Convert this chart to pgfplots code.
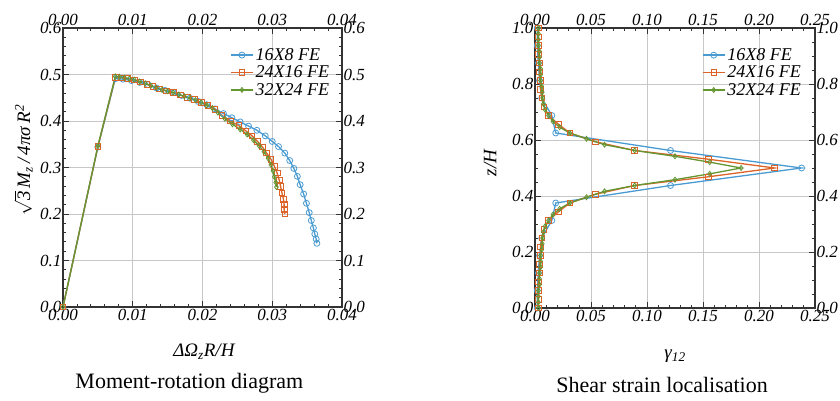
\documentclass[border=0pt]{standalone}
\usepackage{fontspec}
\setmainfont{Liberation Serif}
\usepackage{pgfplots}
\pgfplotsset{compat=1.18}
\definecolor{cA}{RGB}{74,155,210}
\definecolor{cB}{RGB}{220,100,40}
\definecolor{cC}{RGB}{100,150,50}

\pgfplotsset{
  common/.style={
    scale only axis,
    anchor=south west,
    tick align=inside,
    tick pos=both,
    scaled ticks=false,
    major tick length=6pt,
    minor tick length=3pt,
    axis line style={line width=1.3pt, black!80},
    tick style={black!80, line width=0.9pt},
    /pgf/number format/assume math mode=true,
    /pgf/number format/fixed,
    /pgf/number format/fixed zerofill,
    ticklabel style={font=\fontsize{17}{17}\selectfont\itshape},
    x tick label style={inner sep=2pt},
    y tick label style={inner sep=1.5pt},
    label style={font=\fontsize{19}{19}\selectfont\itshape},
    title style={font=\fontsize{22}{22}\selectfont},
  },
  dataax/.style={
    common,
    grid=major,
    major grid style={black!22, line width=0.7pt},
    legend cell align=left,
    legend style={draw=none, fill=none, font=\fontsize{18}{20}\selectfont\itshape, anchor=north west, inner sep=0pt, row sep=0pt},
    legend image code/.code={\draw[mark repeat=2,mark phase=2] plot coordinates {(0pt,0pt) (11pt,0pt) (22pt,0pt)};},
  },
  overlay/.style={
    common,
    xticklabel pos=upper,
    yticklabel pos=right,
    axis line style={draw=none},
    tick style={draw=none},
  },
  sA/.style={cA, line width=1.3pt, mark=o, mark size=3pt, mark options={line width=0.8pt, solid, fill=white}},
  sB/.style={cB, line width=1.3pt, mark=square, mark size=2.8pt, mark options={line width=0.8pt, solid, fill=white}},
  sC/.style={cC, line width=1.3pt, mark=diamond, mark size=2.5pt, mark options={line width=0.8pt, solid}},
}

\begin{document}
\begin{tikzpicture}[x=1pt,y=1pt]
\path[use as bounding box] (0,0) rectangle (840,401);

% ---------------- Left panel ----------------
\begin{axis}[dataax,
  at={(63pt,94pt)}, width=279pt, height=279pt,
  xmin=0, xmax=0.04, ymin=0, ymax=0.6,
  xtick={0,0.01,0.02,0.03,0.04}, ytick={0,0.1,0.2,0.3,0.4,0.5,0.6},
  minor x tick num=4, minor y tick num=4,
  x tick label style={/pgf/number format/precision=2},
  y tick label style={/pgf/number format/precision=1},
  xlabel={ΔΩ\textsubscript{z}R/H},
  ylabel={$\sqrt{\mbox{\itshape 3}}$\,M\textsubscript{z}\,/\,4πσ\,R\textsuperscript{2}},
  xlabel style={at={(0.505,-0.16)}, anchor=center},
  ylabel style={at={(-0.142,0.527)}, anchor=center},
  title={Moment-rotation diagram},
  title style={at={(0.453,-0.295)}, anchor=center},
  legend style={at={(0.599,0.935)}},
]
\addplot[sA] coordinates {
(0,0) (0.005,0.344) (0.0075,0.491) (0.0086,0.490) (0.0098,0.487) (0.0110,0.483)
(0.0122,0.478) (0.0134,0.471) (0.0146,0.466) (0.0158,0.461) (0.0170,0.455)
(0.0182,0.449) (0.0194,0.442) (0.0206,0.435) (0.0218,0.426) (0.0230,0.416)
(0.0242,0.407) (0.0254,0.398) (0.0266,0.389) (0.0278,0.380) (0.0290,0.368)
(0.0300,0.356) (0.0309,0.345) (0.0318,0.331) (0.0325,0.315) (0.0331,0.298)
(0.0336,0.281) (0.0340,0.263) (0.0345,0.243) (0.0349,0.223) (0.0353,0.203)
(0.0356,0.186) (0.0359,0.170) (0.0361,0.157) (0.0363,0.146) (0.0364,0.137)
};
\addplot[sB] coordinates {
(0,0) (0.005,0.345) (0.0075,0.494) (0.0084,0.493) (0.0093,0.491) (0.0102,0.488)
(0.0111,0.484) (0.0120,0.479) (0.0129,0.474) (0.0138,0.469) (0.0148,0.465)
(0.0158,0.461) (0.0168,0.456) (0.0178,0.451) (0.0188,0.446) (0.0198,0.440)
(0.0208,0.433) (0.0218,0.425) (0.0228,0.412) (0.0240,0.400) (0.0252,0.390)
(0.0262,0.379) (0.0271,0.368) (0.0279,0.356) (0.0286,0.344) (0.0292,0.331)
(0.0298,0.318) (0.0303,0.303) (0.0307,0.288) (0.0310,0.273) (0.0312,0.259)
(0.0314,0.245) (0.0316,0.232) (0.0317,0.221) (0.0317,0.210) (0.0318,0.200)
};
\addplot[sC] coordinates {
(0,0) (0.005,0.346) (0.0075,0.496) (0.0081,0.495) (0.0088,0.493) (0.0095,0.491)
(0.0102,0.489) (0.0110,0.485) (0.0118,0.481) (0.0126,0.476) (0.0134,0.471)
(0.0142,0.467) (0.0150,0.464) (0.0158,0.461) (0.0166,0.457) (0.0174,0.453)
(0.0182,0.449) (0.0190,0.445) (0.0198,0.440) (0.0206,0.434) (0.0214,0.428)
(0.0222,0.418) (0.0232,0.405) (0.0243,0.393) (0.0254,0.382) (0.0264,0.371)
(0.0273,0.359) (0.0281,0.347) (0.0288,0.334) (0.0294,0.320) (0.0298,0.306)
(0.0301,0.293) (0.0303,0.280) (0.0305,0.268) (0.0306,0.258)
};
\legend{16X8 FE, 24X16 FE, 32X24 FE}
\end{axis}
\begin{axis}[overlay,
  at={(63pt,94pt)}, width=279pt, height=279pt,
  xmin=0, xmax=0.04, ymin=0, ymax=0.6,
  xtick={0,0.01,0.02,0.03,0.04}, ytick={0,0.1,0.2,0.3,0.4,0.5,0.6},
  x tick label style={/pgf/number format/precision=2},
  y tick label style={/pgf/number format/precision=1},
]
\addplot[draw=none] coordinates {(0,0)};
\end{axis}

% ---------------- Right panel ----------------
\begin{axis}[dataax,
  at={(535pt,93pt)}, width=280pt, height=280pt,
  xmin=0, xmax=0.25, ymin=0, ymax=1,
  xtick={0,0.05,0.1,0.15,0.2,0.25}, ytick={0,0.2,0.4,0.6,0.8,1},
  minor x tick num=4, minor y tick num=3,
  x tick label style={/pgf/number format/precision=2},
  y tick label style={/pgf/number format/precision=1},
  xlabel={γ\textsubscript{12}},
  ylabel={z/H},
  xlabel style={at={(0.5,-0.172)}, anchor=center},
  ylabel style={at={(-0.16,0.518)}, anchor=center},
  title={Shear strain localisation},
  title style={at={(0.454,-0.295)}, anchor=center},
  legend style={at={(0.596,0.935)}},
]
\addplot[sA] coordinates {
(0.002,0.0000) (0.002,0.0625) (0.003,0.1250) (0.004,0.1875) (0.006,0.2500)
(0.015,0.3125) (0.0185,0.3750) (0.121,0.4375) (0.238,0.5000) (0.121,0.5625)
(0.0185,0.6250) (0.015,0.6875) (0.006,0.7500) (0.004,0.8125) (0.003,0.8750)
(0.002,0.9375) (0.002,1.0000)
};
\addplot[sB] coordinates {
(0.003,0.00000) (0.003,0.03125) (0.003,0.06250) (0.003,0.09375) (0.004,0.12500)
(0.004,0.15625) (0.005,0.18750) (0.005,0.21875) (0.006,0.25000) (0.008,0.28125)
(0.012,0.31250) (0.021,0.34375) (0.031,0.37500) (0.054,0.40625) (0.089,0.43750)
(0.155,0.46875) (0.214,0.50000) (0.155,0.53125) (0.089,0.56250) (0.054,0.59375)
(0.031,0.62500) (0.021,0.65625) (0.012,0.68750) (0.008,0.71875) (0.006,0.75000)
(0.005,0.78125) (0.005,0.81250) (0.004,0.84375) (0.004,0.87500) (0.003,0.90625)
(0.003,0.93750) (0.003,0.96875) (0.003,1.00000)
};
\addplot[sC] coordinates {
(0.003,0.0000) (0.003,0.0208) (0.003,0.0417) (0.003,0.0625) (0.004,0.0833)
(0.004,0.1042) (0.004,0.1250) (0.005,0.1458) (0.005,0.1667) (0.005,0.1875)
(0.006,0.2083) (0.0065,0.2292) (0.0068,0.2500) (0.0075,0.2708) (0.009,0.2917)
(0.012,0.3125) (0.016,0.3333) (0.022,0.3542) (0.031,0.3750) (0.046,0.3958)
(0.062,0.4167) (0.089,0.4375) (0.125,0.4583) (0.156,0.4792) (0.184,0.5000)
(0.156,0.5208) (0.125,0.5417) (0.089,0.5625) (0.062,0.5833) (0.046,0.6042)
(0.031,0.6250) (0.022,0.6458) (0.016,0.6667) (0.012,0.6875) (0.009,0.7083)
(0.0075,0.7292) (0.0068,0.7500) (0.0065,0.7708) (0.006,0.7917) (0.005,0.8125)
(0.005,0.8333) (0.005,0.8542) (0.004,0.8750) (0.004,0.8958) (0.004,0.9167)
(0.003,0.9375) (0.003,0.9583) (0.003,0.9792) (0.003,1.0000)
};
\legend{16X8 FE, 24X16 FE, 32X24 FE}
\end{axis}
\begin{axis}[overlay,
  at={(535pt,93pt)}, width=280pt, height=280pt,
  xmin=0, xmax=0.25, ymin=0, ymax=1,
  xtick={0,0.05,0.1,0.15,0.2,0.25}, ytick={0,0.2,0.4,0.6,0.8,1},
  x tick label style={/pgf/number format/precision=2},
  y tick label style={/pgf/number format/precision=1},
]
\addplot[draw=none] coordinates {(0,0)};
\end{axis}
\end{tikzpicture}
\end{document}
